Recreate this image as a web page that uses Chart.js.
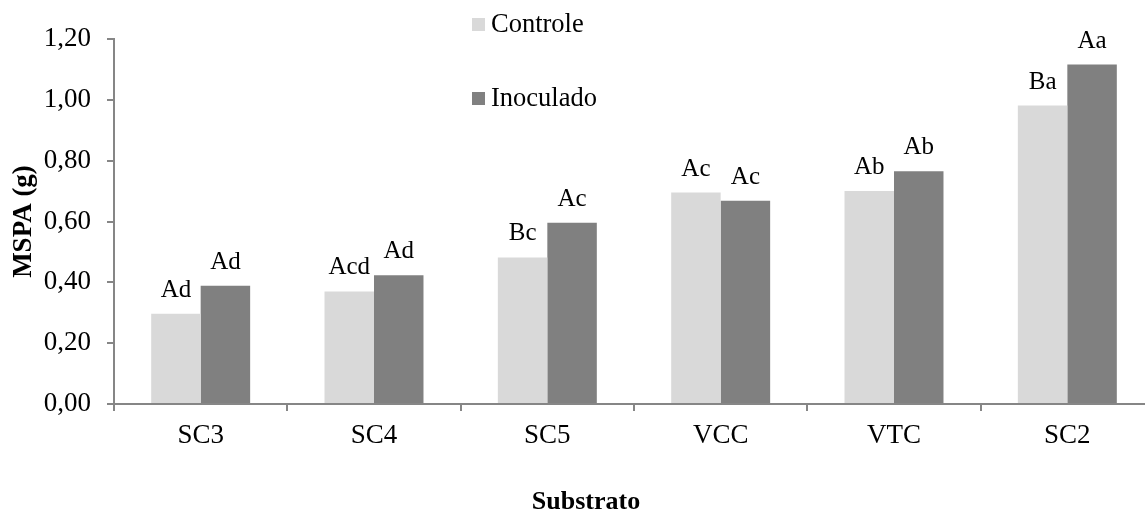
<!DOCTYPE html>
<html>
<head>
  <title>MSPA por substrato</title>
  <script src="https://cdn.jsdelivr.net/npm/chart.js"></script>
  <style>
    body { margin: 0; background: #fff; overflow: hidden; }
    /* the plot runs a little past the right edge in the original */
    #wrap { width: 1154px; height: 515px; }
  </style>
</head>
<body>
  <div id="wrap"><canvas id="chart"></canvas></div>

  <script>
    // --- data ---
    const categories = ['SC3', 'SC4', 'SC5', 'VCC', 'VTC', 'SC2'];
    const controle = [0.297, 0.370, 0.482, 0.695, 0.700, 0.981];
    const inoculado = [0.389, 0.423, 0.596, 0.668, 0.765, 1.116];
    const controleLabels = ['Ad', 'Acd', 'Bc', 'Ac', 'Ab', 'Ba'];
    const inoculadoLabels = ['Ad', 'Ad', 'Ac', 'Ac', 'Ab', 'Aa'];
    const yTicks = [0, 0.2, 0.4, 0.6, 0.8, 1.0, 1.2];

    const FONT = "'Liberation Serif', 'Times New Roman', serif";
    const axisGray = '#868686';

    // letters above each bar
    const barLetters = {
      id: 'barLetters',
      afterDatasetsDraw(chart) {
        const ctx = chart.ctx;
        ctx.save();
        ctx.font = '25px ' + FONT;
        ctx.fillStyle = '#000';
        ctx.textAlign = 'center';
        ctx.textBaseline = 'alphabetic';
        chart.data.datasets.forEach((ds, i) => {
          chart.getDatasetMeta(i).data.forEach((bar, j) => {
            ctx.fillText(ds.letters[j], bar.x, bar.y - 17);
          });
        });
        ctx.restore();
      }
    };

    // vertical legend inside the plot + x title (sits left of centre in the original)
    const extras = {
      id: 'extras',
      afterDraw(chart) {
        const ctx = chart.ctx;
        const area = chart.chartArea;
        ctx.save();
        ctx.font = '26.5px ' + FONT;
        ctx.textBaseline = 'middle';
        chart.data.datasets.forEach((ds, i) => {
          const y = 25 + i * 74;
          ctx.fillStyle = ds.backgroundColor;
          ctx.fillRect(472, y - 7, 13, 13);
          ctx.fillStyle = '#000';
          ctx.fillText(ds.label, 491, y);
        });
        ctx.font = 'bold 26px ' + FONT;
        ctx.textAlign = 'center';
        ctx.fillText('Substrato', area.left + 472, 502);
        ctx.restore();
      }
    };

    const ctx = document.getElementById('chart').getContext('2d');
    new Chart(ctx, {
      type: 'bar',
      data: {
        labels: categories,
        datasets: [
          { label: 'Controle', data: controle, letters: controleLabels, backgroundColor: '#d9d9d9' },
          { label: 'Inoculado', data: inoculado, letters: inoculadoLabels, backgroundColor: '#808080' }
        ]
      },
      options: {
        responsive: true,
        maintainAspectRatio: false,
        animation: false,
        layout: { padding: { top: 39, right: 0, left: 0, bottom: 0 } },
        datasets: { bar: { barPercentage: 1, categoryPercentage: 0.571 } },
        plugins: {
          legend: { display: false },
          tooltip: { enabled: false }
        },
        scales: {
          x: {
            afterFit: s => { s.height = 111; },
            grid: {
              offset: true,
              drawOnChartArea: false,
              color: axisGray,
              tickLength: 7,
              lineWidth: 2
            },
            border: { color: axisGray, width: 2 },
            ticks: { color: '#000', font: { family: FONT, size: 27 }, padding: 9 }
          },
          y: {
            min: 0,
            max: 1.2,
            afterFit: s => { s.width = 114; },
            afterBuildTicks: s => { s.ticks = yTicks.map(v => ({ value: v })); },
            grid: {
              drawOnChartArea: false,
              color: axisGray,
              tickLength: 7,
              lineWidth: 2
            },
            border: { color: axisGray, width: 2 },
            ticks: {
              color: '#000',
              font: { family: FONT, size: 27 },
              padding: 16,
              callback: v => v.toFixed(2).replace('.', ',')
            },
            title: {
              display: true,
              text: 'MSPA (g)',
              color: '#000',
              font: { family: FONT, size: 27, weight: 'bold' },
              padding: { top: 8, bottom: 0 }
            }
          }
        }
      },
      plugins: [barLetters, extras]
    });
  </script>
</body>
</html>
